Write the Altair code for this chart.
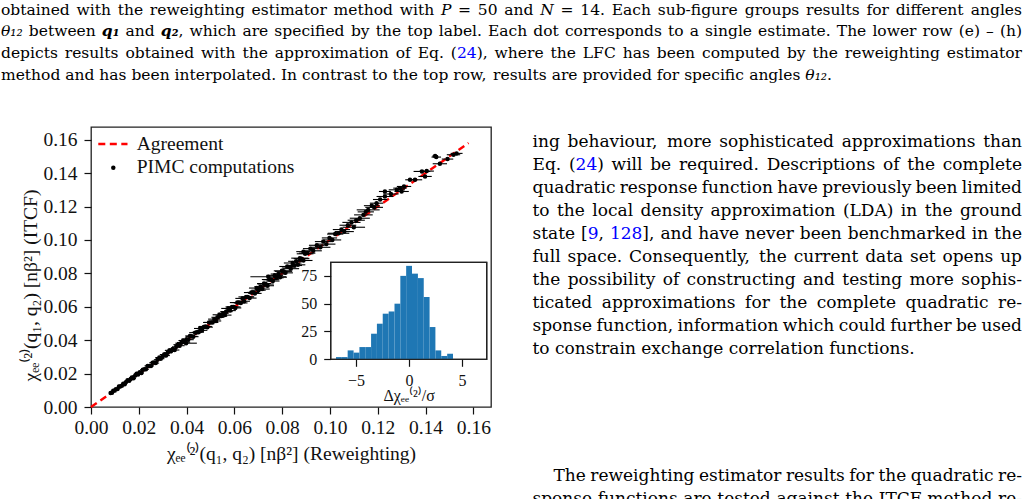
import os, glob, re, struct
import pandas as pd
import altair as alt

# ---------------- scatter data: reweighting (x) vs ITCF (y) ----------------
xa = [0.0082, 0.0088, 0.0093, 0.0099, 0.0104, 0.0111, 0.0117, 0.0122, 0.0129, 0.0135,
      0.0141, 0.0146, 0.0153, 0.0160, 0.0166, 0.0171, 0.0178, 0.0185, 0.0191, 0.0197,
      0.0204, 0.0211, 0.0217, 0.0224, 0.0230, 0.0237, 0.0244, 0.0251, 0.0258, 0.0264,
      0.0271, 0.0278, 0.0286, 0.0292, 0.0299, 0.0306, 0.0314, 0.0321, 0.0328, 0.0335,
      0.0342, 0.0350, 0.0357, 0.0364, 0.0371, 0.0379, 0.0386, 0.0393]
ya = [0.0084, 0.0085, 0.0098, 0.0098, 0.0107, 0.0107, 0.0123, 0.0123, 0.0127, 0.0139,
      0.0136, 0.0148, 0.0160, 0.0157, 0.0167, 0.0176, 0.0172, 0.0188, 0.0199, 0.0195,
      0.0208, 0.0204, 0.0223, 0.0226, 0.0226, 0.0246, 0.0245, 0.0246, 0.0265, 0.0267,
      0.0263, 0.0283, 0.0296, 0.0289, 0.0301, 0.0314, 0.0308, 0.0325, 0.0339, 0.0333,
      0.0348, 0.0341, 0.0360, 0.0373, 0.0367, 0.0386, 0.0398, 0.0388]
ea = [0.0005, 0.0006, 0.0005, 0.0007, 0.0006, 0.0008, 0.0006, 0.0007, 0.0009, 0.0007,
      0.0008, 0.0010, 0.0008, 0.0009, 0.0011, 0.0009, 0.0010, 0.0012, 0.0010, 0.0011,
      0.0013, 0.0011, 0.0012, 0.0014, 0.0012, 0.0013, 0.0015, 0.0013, 0.0014, 0.0016,
      0.0014, 0.0015, 0.0017, 0.0015, 0.0016, 0.0018, 0.0016, 0.0017, 0.0019, 0.0017,
      0.0018, 0.0020, 0.0018, 0.0019, 0.0021, 0.0019, 0.0020, 0.0022]

xb = [0.0400, 0.0407, 0.0414, 0.0421, 0.0428, 0.0436, 0.0443, 0.0450, 0.0457, 0.0465,
      0.0472, 0.0479, 0.0487, 0.0494, 0.0501, 0.0509, 0.0516, 0.0523, 0.0531, 0.0538,
      0.0545, 0.0553, 0.0560, 0.0567, 0.0575, 0.0582, 0.0590, 0.0597, 0.0604, 0.0612,
      0.0619, 0.0627, 0.0634, 0.0641, 0.0649, 0.0656, 0.0664, 0.0671, 0.0679, 0.0686,
      0.0694, 0.0701, 0.0709, 0.0716, 0.0724, 0.0731, 0.0739, 0.0746, 0.0754, 0.0761,
      0.0769, 0.0776, 0.0784, 0.0791, 0.0799, 0.0806, 0.0814, 0.0821, 0.0829, 0.0836,
      0.0844, 0.0851, 0.0859, 0.0866, 0.0874, 0.0881, 0.0889, 0.0896]
yb = [0.0406, 0.0403, 0.0425, 0.0423, 0.0421, 0.0445, 0.0447, 0.0448, 0.0470, 0.0459,
      0.0479, 0.0482, 0.0478, 0.0506, 0.0506, 0.0506, 0.0526, 0.0515, 0.0537, 0.0552,
      0.0544, 0.0561, 0.0550, 0.0571, 0.0590, 0.0577, 0.0599, 0.0599, 0.0593, 0.0625,
      0.0625, 0.0623, 0.0650, 0.0633, 0.0659, 0.0659, 0.0652, 0.0685, 0.0686, 0.0680,
      0.0712, 0.0699, 0.0720, 0.0706, 0.0739, 0.0736, 0.0726, 0.0763, 0.0762, 0.0754,
      0.0788, 0.0773, 0.0796, 0.0777, 0.0815, 0.0812, 0.0803, 0.0841, 0.0838, 0.0828,
      0.0862, 0.0847, 0.0872, 0.0851, 0.0891, 0.0888, 0.0877, 0.0917]
eb = [0.0021, 0.0023, 0.0020, 0.0024, 0.0022, 0.0025, 0.0021, 0.0023, 0.0026, 0.0022,
      0.0024, 0.0027, 0.0023, 0.0025, 0.0028, 0.0024, 0.0026, 0.0022, 0.0027, 0.0029,
      0.0025, 0.0023, 0.0028, 0.0026, 0.0030, 0.0024, 0.0027, 0.0029, 0.0025, 0.0031,
      0.0026, 0.0028, 0.0030, 0.0024, 0.0032, 0.0027, 0.0029, 0.0031, 0.0025, 0.0028,
      0.0033, 0.0030, 0.0026, 0.0032, 0.0029, 0.0034, 0.0027, 0.0031, 0.0033, 0.0028,
      0.0035, 0.0030, 0.0032, 0.0029, 0.0034, 0.0036, 0.0031, 0.0033, 0.0030, 0.0035,
      0.0037, 0.0032, 0.0034, 0.0031, 0.0036, 0.0033, 0.0038, 0.0035]

xc = [0.0889, 0.0905, 0.0918, 0.0930, 0.0960, 0.0945, 0.0972, 0.0985, 0.0998, 0.1010,
      0.1036, 0.1022, 0.1048, 0.1060, 0.1100, 0.1075, 0.1090, 0.1125, 0.1110, 0.1160,
      0.1140, 0.1150, 0.1185, 0.1195, 0.1175, 0.1230, 0.1210, 0.1230, 0.1255, 0.1293,
      0.1280, 0.1310, 0.1300, 0.1335, 0.1356, 0.1385, 0.1405, 0.1398, 0.1445, 0.1440,
      0.1460, 0.1492, 0.1517, 0.1530]
yc = [0.0930, 0.0921, 0.0948, 0.0935, 0.0956, 0.0968, 0.0990, 0.0975, 0.1012, 0.1000,
      0.1040, 0.1035, 0.1062, 0.1050, 0.1076, 0.1088, 0.1105, 0.1130, 0.1118, 0.1180,
      0.1150, 0.1168, 0.1195, 0.1220, 0.1205, 0.1260, 0.1242, 0.1290, 0.1275, 0.1310,
      0.1300, 0.1320, 0.1290, 0.1360, 0.1360, 0.1410, 0.1412, 0.1380, 0.1496, 0.1502,
      0.1456, 0.1484, 0.1510, 0.1518]
ec = [0.0030, 0.0034, 0.0031, 0.0036, 0.0042, 0.0033, 0.0035, 0.0038, 0.0032, 0.0037,
      0.0045, 0.0034, 0.0036, 0.0040, 0.0047, 0.0035, 0.0038, 0.0042, 0.0036, 0.0048,
      0.0039, 0.0034, 0.0037, 0.0028, 0.0033, 0.0035, 0.0030, 0.0025, 0.0032, 0.0028,
      0.0034, 0.0030, 0.0030, 0.0020, 0.0030, 0.0035, 0.0030, 0.0028, 0.0020, 0.0012,
      0.0030, 0.0024, 0.0028, 0.0025]

x_out = [0.0398, 0.0742]
y_out = [0.0382, 0.0780]
e_out = [0.0045, 0.0075]

agree_x = [0.0, 0.158]

# ---------------- inset histogram ----------------
hist_edges = [-6.89, -6.34, -5.79, -5.23, -4.68, -4.13, -3.58, -3.03, -2.48, -1.92, -1.37,
              -0.82, -0.27, 0.28, 0.84, 1.39, 1.94, 2.49, 3.04, 3.60, 4.15]
hist_counts = [2, 2, 8, 6, 11, 11, 23, 32, 41, 43, 50, 75, 84, 77, 73, 56, 29, 8, 3, 5]

main_ticks = [0.0, 0.02, 0.04, 0.06, 0.08, 0.10, 0.12, 0.14, 0.16]
inset_xticks = [-5, 0, 5]
inset_yticks = [0, 25, 50, 75]

XT = "χₑₑ⁽²⁾(q₁, q₂) [nβ²] (Reweighting)"
YT = "χₑₑ⁽²⁾(q₁, q₂) [nβ²] (ITCF)"
IT = "Δχₑₑ⁽²⁾/σ"
legend_labels = ["Agreement", "PIMC computations"]

caption_lines = [
    ("obtained with the reweighting estimator method with {i:P} = 50 and {i:N} = 14. Each sub-figure groups results for different angles", True),
    ("{i:θ₁₂} between {q:q₁} and {q:q₂}, which are specified by the top label. Each dot corresponds to a single estimate. The lower row (e) – (h)", True),
    ("depicts results obtained with the approximation of Eq. ({b:24}), where the LFC has been computed by the reweighting estimator", True),
    ("method and has been interpolated. In contrast to the top row, results are provided for specific angles {i:θ₁₂}.", False),
]
body_lines = [
    ("ing behaviour, more sophisticated approximations than", True),
    ("Eq. ({b:24}) will be required. Descriptions of the complete", True),
    ("quadratic response function have previously been limited", True),
    ("to the local density approximation (LDA) in the ground", True),
    ("state [{b:9}, {b:128}], and have never been benchmarked in the", True),
    ("full space. Consequently, the current data set opens up", True),
    ("the possibility of constructing and testing more sophis-", True),
    ("ticated approximations for the complete quadratic re-", True),
    ("sponse function, information which could further be used", True),
    ("to constrain exchange correlation functions.", False),
]
body2_lines = [
    ("The reweighting estimator results for the quadratic re-", True),
    ("sponse functions are tested against the ITCF method re-", True),
]

# ---------------- layout ----------------
PL, PT, PW, PH = 91, 127, 400, 280
FIG_FONT = "Liberation Serif"
PAGE_FONT = "DejaVu Serif"


def load_metrics(fname):
    path = None
    for base in ["/usr/share/fonts", "/usr/local/share/fonts",
                 os.path.expanduser("~/.fonts"), os.path.expanduser("~/.local/share/fonts")]:
        hits = glob.glob(os.path.join(base, "**", fname), recursive=True)
        if hits:
            path = hits[0]
            break
    if path is None:
        return None
    try:
        d = open(path, "rb").read()
        n = struct.unpack(">H", d[4:6])[0]
        tb = {}
        for i in range(n):
            tag, _, off, ln = struct.unpack(">4sIII", d[12 + 16 * i:28 + 16 * i])
            tb[tag] = off
        upem = struct.unpack(">H", d[tb[b"head"] + 18:tb[b"head"] + 20])[0]
        nhm = struct.unpack(">H", d[tb[b"hhea"] + 34:tb[b"hhea"] + 36])[0]
        hm = tb[b"hmtx"]
        adv = struct.unpack(">%dH" % (2 * nhm), d[hm:hm + 4 * nhm])[0::2]
        cm = tb[b"cmap"]
        ns = struct.unpack(">H", d[cm + 2:cm + 4])[0]
        sub = None
        for i in range(ns):
            pid, eid, off = struct.unpack(">HHI", d[cm + 4 + 8 * i:cm + 12 + 8 * i])
            if struct.unpack(">H", d[cm + off:cm + off + 2])[0] == 4 and pid in (0, 3):
                sub = cm + off
                if pid == 3:
                    break
        seg2 = struct.unpack(">H", d[sub + 6:sub + 8])[0]
        seg = seg2 // 2
        e_off = sub + 14
        ends = struct.unpack(">%dH" % seg, d[e_off:e_off + seg2])
        s_off = e_off + seg2 + 2
        starts = struct.unpack(">%dH" % seg, d[s_off:s_off + seg2])
        dl_off = s_off + seg2
        deltas = struct.unpack(">%dH" % seg, d[dl_off:dl_off + seg2])
        r_off = dl_off + seg2
        ros = struct.unpack(">%dH" % seg, d[r_off:r_off + seg2])
        cache = {}

        def w(ch):
            c = ord(ch)
            if c in cache:
                return cache[c]
            g = 0
            for i in range(seg):
                if ends[i] >= c:
                    if starts[i] <= c:
                        if ros[i] == 0:
                            g = (c + deltas[i]) & 0xFFFF
                        else:
                            a = r_off + 2 * i + ros[i] + 2 * (c - starts[i])
                            g = struct.unpack(">H", d[a:a + 2])[0]
                            if g:
                                g = (g + deltas[i]) & 0xFFFF
                    break
            val = ((adv[g] if g < nhm else adv[-1]) / upem) if g else None
            cache[c] = val
            return val
        return w
    except Exception:
        return None


METRICS = {
    "n": load_metrics("DejaVuSerif.ttf"),
    "i": load_metrics("DejaVuSerif-Italic.ttf"),
    "q": load_metrics("DejaVuSerif-BoldItalic.ttf"),
}
METRICS["b"] = METRICS["n"]


def seg_width(text, st):
    f = METRICS.get(st)
    tot = 0.0
    for ch in text:
        v = f(ch) if f else None
        if v is None:
            v = 0.32 if ch == " " else 0.56
        tot += v
    return tot


TOK = re.compile(r"\{([biq]):([^}]*)\}|([^{]+)")


def parse_word(w):
    segs = []
    for m in TOK.finditer(w):
        if m.group(1):
            segs.append((m.group(2), m.group(1)))
        else:
            segs.append((m.group(3), "n"))
    return segs


rows = []


def place(lines, x0, x1, y0, dy, size, indents=None):
    indents = indents or {}
    parsed = [([parse_word(w) for w in t.split(" ")], j) for t, j in lines]
    for k, (words, j) in enumerate(parsed):
        if j and len(words) > 1:
            em = sum(seg_width(t, s) for wd in words for t, s in wd)
            lim = (x1 - x0 - indents.get(k, 0)) / (em + 0.22 * (len(words) - 1))
            size = min(size, lim)
    for k, (words, j) in enumerate(parsed):
        xs = x0 + indents.get(k, 0)
        y = y0 + k * dy
        ws = [sum(seg_width(t, s) for t, s in wd) * size for wd in words]
        if j and len(words) > 1:
            gap = (x1 - xs - sum(ws)) / (len(words) - 1)
        else:
            gap = seg_width(" ", "n") * size
        x = xs
        for wd, wdw in zip(words, ws):
            xx = x
            for t, s in wd:
                rows.append(dict(t=t, px=xx - PL, py=y - PT, fs=size, st=s))
                xx += seg_width(t, s) * size
            x += wdw + gap


place(caption_lines, 1, 1022, 14.5, 21.8, 15.5)
place(body_lines, 532.5, 1022, 146.5, 23.0, 17.0)
place(body2_lines, 532.5, 1022, 480.7, 23.0, 17.0, indents={0: 21})

tdf = pd.DataFrame(rows)
tdf["col"] = ["#0000ff" if s == "b" else "#000000" for s in tdf["st"]]

ldf = pd.DataFrame({"t": legend_labels, "px": [136.7 - PL, 136.7 - PL],
                    "py": [150.0 - PT, 173.3 - PT]})

# ---------------- dataframes ----------------
sx = xa + x_out[:1] + xb + x_out[1:] + xc
sy = ya + y_out[:1] + yb + y_out[1:] + yc
se = ea + e_out[:1] + eb + e_out[1:] + ec
sdf = pd.DataFrame({"x": sx, "y": sy, "e": se})
sdf["lo"] = sdf["x"] - sdf["e"]
sdf["hi"] = sdf["x"] + sdf["e"]

adf = pd.DataFrame({"x": agree_x, "y": agree_x})

hdf = pd.DataFrame({"lo": hist_edges[:-1], "hi": hist_edges[1:], "n": hist_counts,
                    "zero": [0] * len(hist_counts)})

IX_DOM = [-7.39, 7.33]
IY_DOM = [0, 87.2]
frame_df = pd.DataFrame({"x0": [IX_DOM[0]], "x1": [IX_DOM[1]], "y0": [IY_DOM[0]], "y1": [IY_DOM[1]]})

# ---------------- scales & axes ----------------
INK = "#111111"
xs = alt.Scale(domain=[0, 0.1674], nice=False, zero=False)
ys = alt.Scale(domain=[0, 0.1676], nice=False, zero=False)

x_axis = alt.Axis(values=main_ticks, format=".2f", orient="bottom", title=XT, grid=False,
                  domain=False, tickSize=7, tickColor=INK, tickWidth=1.2, labelFont=FIG_FONT,
                  labelFontSize=19.5, labelColor=INK, labelPadding=4, labelFlush=False,
                  labelOverlap=False, titleFont=FIG_FONT, titleFontSize=19.5, titleFontWeight="normal",
                  titleColor=INK, titleY=52, titleBaseline="alphabetic")
y_axis = alt.Axis(values=main_ticks, format=".2f", orient="left", title=YT, grid=False,
                  domain=False, tickSize=7, tickColor=INK, tickWidth=1.2, labelFont=FIG_FONT,
                  labelFontSize=19.5, labelColor=INK, labelPadding=7, labelFlush=False,
                  labelOverlap=False, titleFont=FIG_FONT, titleFontSize=19.5, titleFontWeight="normal",
                  titleColor=INK, titleX=-54.3, titleY=158, titleAngle=270,
                  titleBaseline="alphabetic", titleAlign="center")

ixs = alt.Scale(domain=IX_DOM, range=[330.7 - PL, 486.7 - PL], nice=False, zero=False)
iys = alt.Scale(domain=IY_DOM, range=[359.3 - PT, 262.3 - PT], nice=False, zero=False)
ix_axis = alt.Axis(values=inset_xticks, orient="bottom", offset=-(PH - (359.3 - PT)), title=IT,
                   grid=False, domain=False, tickSize=7, tickColor=INK, tickWidth=1.2,
                   labelFont=FIG_FONT, labelFontSize=16, labelColor=INK, labelPadding=6,
                   labelFlush=False, titleFont=FIG_FONT, titleFontSize=16, titleFontWeight="normal",
                   titleColor=INK, titleY=41, titleBaseline="alphabetic", zindex=1)
iy_axis = alt.Axis(values=inset_yticks, orient="left", offset=-(330.7 - PL), title="",
                   grid=False, domain=False, tickSize=7, tickColor=INK, tickWidth=1.2,
                   labelFont=FIG_FONT, labelFontSize=16, labelColor=INK, labelPadding=7,
                   labelFlush=False, zindex=1)

# ---------------- main layers ----------------
agree = alt.Chart(adf).mark_line(color="#ff0000", strokeWidth=2.4, strokeDash=[7, 4.5]).encode(
    x=alt.X("x:Q", scale=xs, axis=x_axis), y=alt.Y("y:Q", scale=ys, axis=y_axis))
bars_err = alt.Chart(sdf).mark_rule(color="black", strokeWidth=1.1).encode(
    x=alt.X("lo:Q", scale=xs, axis=x_axis), x2="hi:Q", y=alt.Y("y:Q", scale=ys, axis=y_axis))
pts = alt.Chart(sdf).mark_circle(color="black", size=20, opacity=1).encode(
    x=alt.X("x:Q", scale=xs, axis=x_axis), y=alt.Y("y:Q", scale=ys, axis=y_axis))
main = alt.layer(agree, bars_err, pts)

# ---------------- inset layers ----------------
inset_bg = alt.Chart(frame_df).mark_rect(fill="white", stroke="#222222", strokeWidth=1.3).encode(
    x=alt.X("x0:Q", scale=ixs, axis=ix_axis), x2="x1:Q",
    y=alt.Y("y0:Q", scale=iys, axis=iy_axis), y2="y1:Q")
inset_bars = alt.Chart(hdf).mark_rect(color="#1f77b4").encode(
    x=alt.X("lo:Q", scale=ixs, axis=ix_axis), x2="hi:Q",
    y=alt.Y("zero:Q", scale=iys, axis=iy_axis), y2="n:Q")
inset_edge = alt.Chart(frame_df).mark_rect(fill="transparent", stroke="#222222", strokeWidth=1.3).encode(
    x=alt.X("x0:Q", scale=ixs, axis=ix_axis), x2="x1:Q",
    y=alt.Y("y0:Q", scale=iys, axis=iy_axis), y2="y1:Q")
inset = alt.layer(inset_bg, inset_bars, inset_edge)


# ---------------- page text & legend ----------------
def text_layer(df, style="normal", weight="normal"):
    return alt.Chart(df).mark_text(align="left", baseline="alphabetic", font=PAGE_FONT,
                                   fontStyle=style, fontWeight=weight).encode(
        x=alt.X("px:Q", scale=None, axis=None),
        y=alt.Y("py:Q", scale=None, axis=None),
        text="t:N",
        size=alt.Size("fs:Q", scale=None, legend=None),
        color=alt.Color("col:N", scale=None, legend=None))


t_n = text_layer(tdf[tdf["st"].isin(["n", "b"])])
t_i = text_layer(tdf[tdf["st"] == "i"], style="italic")
t_q = text_layer(tdf[tdf["st"] == "q"], style="italic", weight="bold")

t_leg = alt.Chart(ldf).mark_text(align="left", baseline="alphabetic", font=FIG_FONT,
                                 fontSize=19.5, color=INK).encode(
    x=alt.X("px:Q", scale=None, axis=None),
    y=alt.Y("py:Q", scale=None, axis=None),
    text="t:N")

one = pd.DataFrame({"a": [0]})
leg_line = alt.Chart(one).mark_rule(color="#ff0000", strokeWidth=2.4, strokeDash=[7, 4.5]).encode(
    x=alt.value(98.3 - PL), x2=alt.value(127.5 - PL), y=alt.value(144.0 - PT))
leg_dot = alt.Chart(one).mark_circle(color="black", size=20, opacity=1).encode(
    x=alt.value(113.3 - PL), y=alt.value(167.7 - PT))
texts = alt.layer(t_n, t_i, t_q, t_leg, leg_line, leg_dot)

chart = alt.layer(main, inset, texts).resolve_scale(
    x="independent", y="independent").properties(
    width=PW, height=PH,
    autosize=alt.AutoSizeParams(type="none"),
    padding={"left": PL, "top": PT, "right": 1029 - PL - PW, "bottom": 499 - PT - PH},
    background="white",
).configure_view(stroke="#222222", strokeWidth=1.3)

chart.save("out.html", embed_options={"renderer": "svg", "actions": False})
